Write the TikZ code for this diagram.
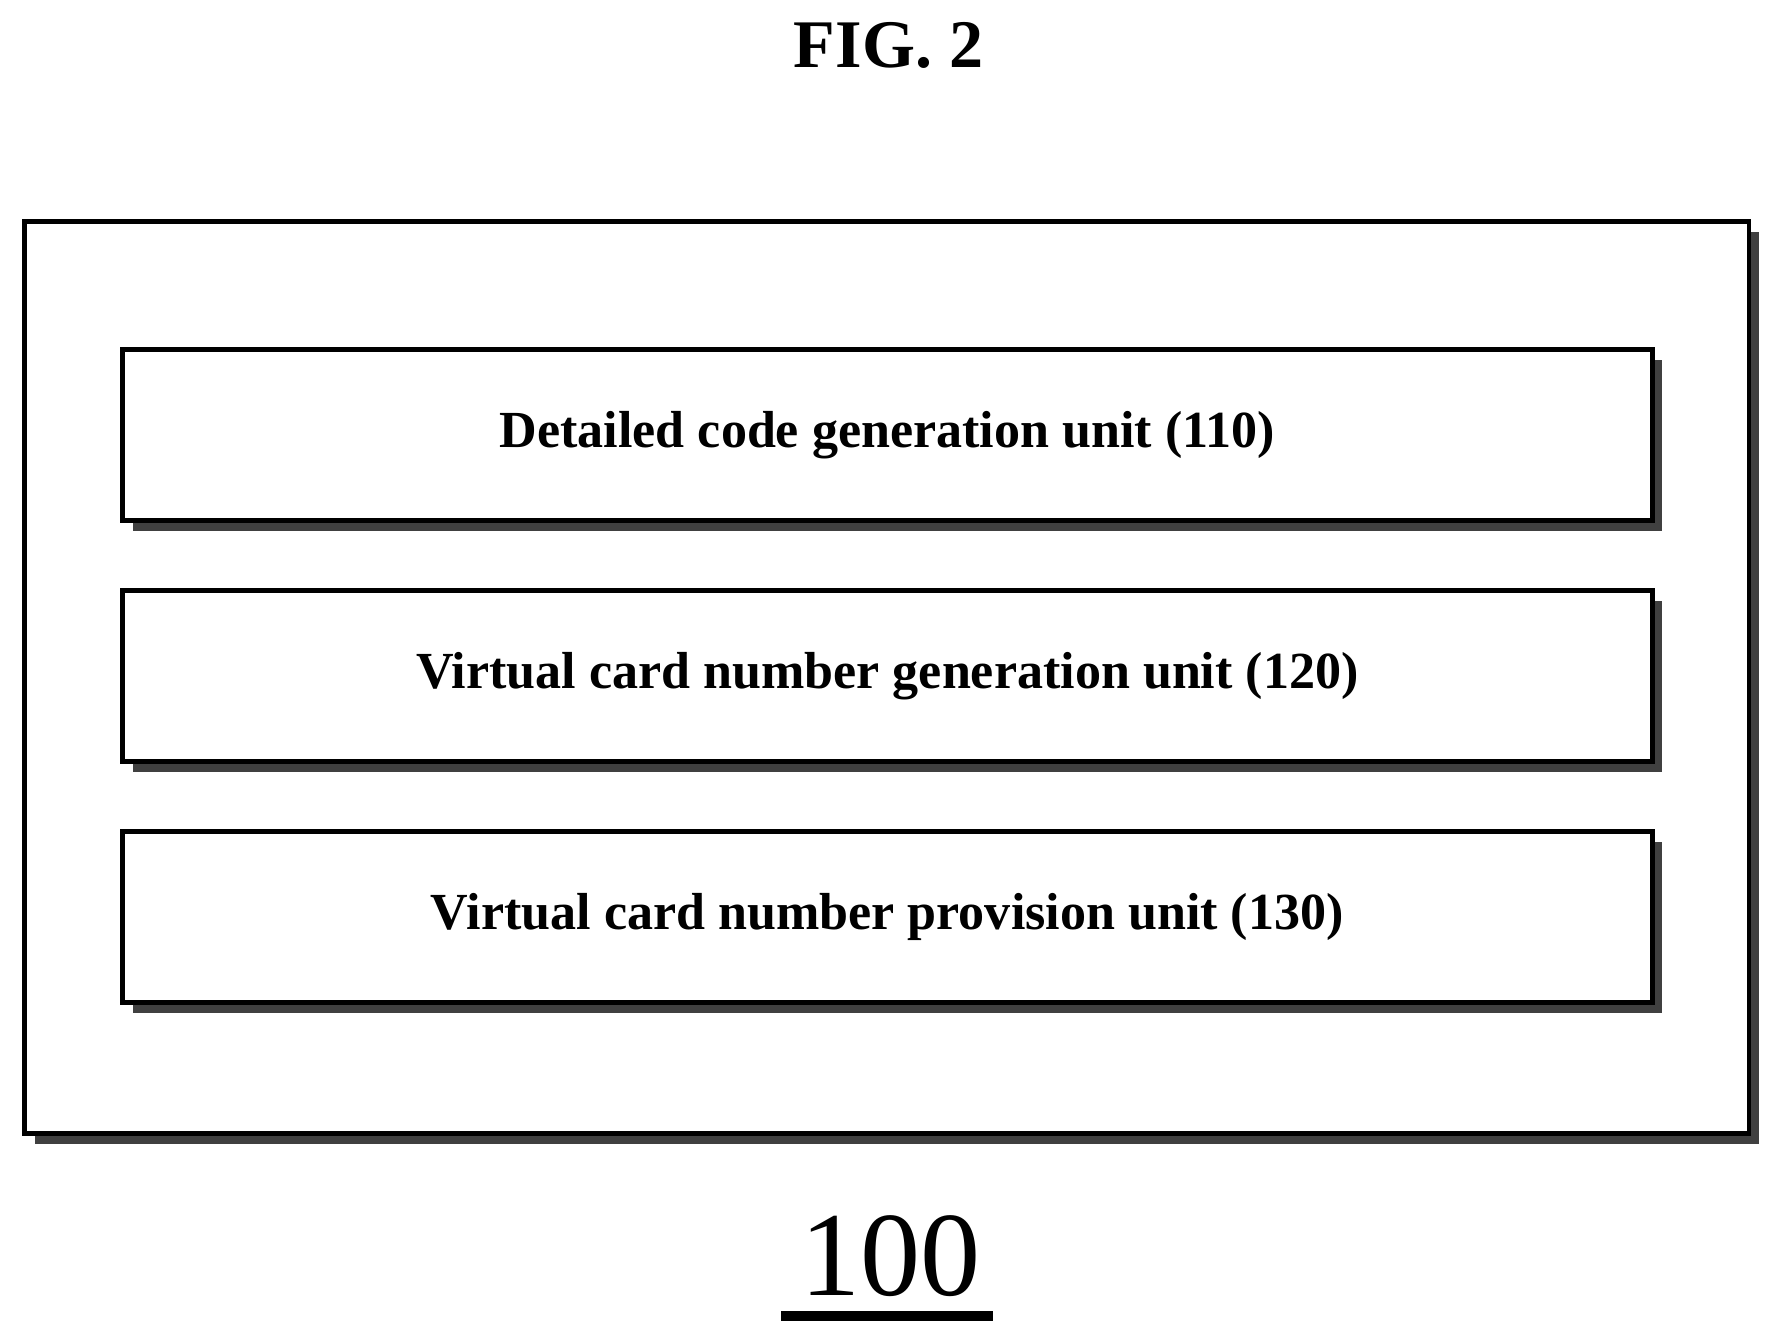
\documentclass[tikz,border=0pt]{standalone}
\usepackage{fontspec}
\setmainfont{Liberation Serif}
\usetikzlibrary{shadows,positioning}

\tikzset{
    unit/.style={draw, line width=1.2pt, fill=white, minimum width=13.42cm, minimum height=1.5cm,
        font=\fontsize{13}{16}\selectfont\bfseries,
        drop shadow={shadow xshift=0.09cm, shadow yshift=-0.09cm, fill=black!75, opacity=1}},
}

\begin{document}
\begin{tikzpicture}[x=0.01cm, y=-0.01cm]
    \useasboundingbox (0,0) rectangle (1560,1174);

    \node (title) at (780,40) {\fontsize{17}{20}\selectfont\bfseries FIG. 2};

    \node[draw, line width=1.2pt, fill=white, minimum width=15.13cm, minimum height=8cm,
        drop shadow={shadow xshift=0.09cm, shadow yshift=-0.09cm, fill=black!75, opacity=1}]
        (device) at (778.5,595) {};

    \node[unit] (detail) at (779,382) {Detailed code generation unit (110)};
    \node[unit] (vcngen) at (779,593.5) {Virtual card number generation unit (120)};
    \node[unit] (vcnprov) at (779,805) {Virtual card number provision unit (130)};

    \node (label) at (782,1103) {\fontsize{30}{34}\selectfont 100};
    \draw[line width=2.5pt] (686,1155) -- (872,1155);
\end{tikzpicture}
\end{document}
